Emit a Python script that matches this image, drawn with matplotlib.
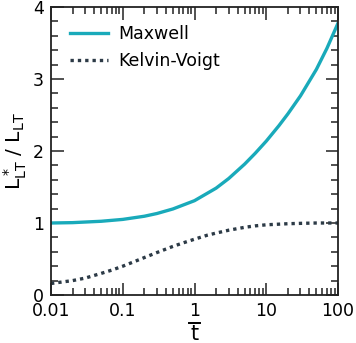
import matplotlib
matplotlib.use("Agg")
import matplotlib.pyplot as plt
from matplotlib.ticker import LogLocator, MultipleLocator, FixedLocator, FixedFormatter
from matplotlib.transforms import blended_transform_factory
from matplotlib.lines import Line2D

# Data
x_max = [0.01, 0.02, 0.05, 0.1, 0.2, 0.3, 0.5, 1, 2, 3, 5, 7, 10, 15, 20, 30, 50, 70, 100]
maxwell = [1.00, 1.005, 1.024, 1.05, 1.094, 1.132, 1.195, 1.31, 1.484, 1.618, 1.818, 1.967,
           2.137, 2.351, 2.515, 2.766, 3.134, 3.425, 3.775]
x_kv = [0.01, 0.02, 0.03, 0.05, 0.07, 0.1, 0.15, 0.2, 0.3, 0.5, 0.7, 1, 1.5, 2, 3, 5, 7, 10,
        20, 30, 50, 100]
kelvin_voigt = [0.16, 0.20, 0.235, 0.30, 0.345, 0.40, 0.47, 0.52, 0.59, 0.675, 0.725, 0.775,
                0.83, 0.86, 0.90, 0.94, 0.96, 0.975, 0.99, 0.995, 1.0, 1.0]
x_ticks = [0.01, 0.1, 1, 10, 100]
x_ticklabels = ["0.01", "0.1", "1", "10", "100"]
y_ticks = [0, 1, 2, 3, 4]

plt.rcParams['font.family'] = ['DejaVu Sans']

fig = plt.figure(figsize=(3.56, 3.43), dpi=100)
ax = fig.add_axes([51/356, (343-295)/343, (338-51)/356, (295-7)/343])

teal = '#19AABA'
dark = '#2C3A46'
ax.plot(x_max, maxwell, color=teal, lw=2.4, label='Maxwell')
ax.plot(x_kv, kelvin_voigt, color=dark, lw=2.4, linestyle=(0, (1, 1.2)), label='Kelvin-Voigt')

ax.set_xscale('log')
ax.set_xlim(0.01, 100)
ax.set_ylim(0, 4)
ax.xaxis.set_major_locator(FixedLocator(x_ticks))
ax.xaxis.set_major_formatter(FixedFormatter(x_ticklabels))
ax.xaxis.set_minor_locator(LogLocator(base=10, subs=range(2, 10), numticks=20))
ax.yaxis.set_major_locator(FixedLocator(y_ticks))
ax.yaxis.set_minor_locator(MultipleLocator(0.2))

ax.tick_params(which='both', direction='in', top=True, right=True, width=1.1, color='#222222')
ax.tick_params(which='major', length=9, labelsize=12.5, pad=5)
ax.tick_params(which='minor', length=5)
for s in ax.spines.values():
    s.set_linewidth(1.3)
    s.set_color('#222222')

ax.set_ylabel(r'$\mathregular{L^*_{LT}}$ / $\mathregular{L_{LT}}$', fontsize=14.5, labelpad=3)

# x label: fraction bar under tick label "1" and a "t"
trans = blended_transform_factory(ax.transData, ax.transAxes)
ax.add_line(Line2D([0.84, 1.19], [-0.097, -0.097], transform=trans, color='black', lw=1.4, clip_on=False))
ax.text(1, -0.157, 't', transform=trans, ha='center', va='baseline', fontsize=15)

ax.legend(loc='upper left', frameon=False, fontsize=12.5, handlelength=2.2,
          bbox_to_anchor=(0.017, 0.985), borderaxespad=0.4, labelspacing=0.5, handletextpad=0.6)

fig.savefig('out.png', dpi=100)
